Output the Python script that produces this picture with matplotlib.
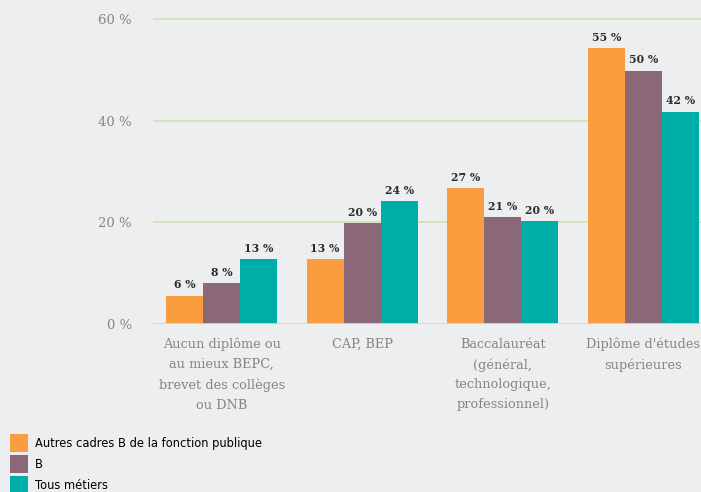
import numpy as np
import matplotlib.pyplot as plt
from matplotlib.patches import Patch

categories = ["Aucun diplôme ou\nau mieux BEPC,\nbrevet des collèges\nou DNB",
              "CAP, BEP",
              "Baccalauréat\n(général,\ntechnologique,\nprofessionnel)",
              "Diplôme d'études\nsupérieures"]
series = ["Autres cadres B de la fonction publique", "B", "Tous métiers"]
autres_b = [5.5, 12.7, 26.7, 54.2]
b_values = [8.0, 19.8, 21.0, 49.8]
tous = [12.7, 24.1, 20.2, 41.8]
labels_autres = ["6 %", "13 %", "27 %", "55 %"]
labels_b = ["8 %", "20 %", "21 %", "50 %"]
labels_tous = ["13 %", "24 %", "20 %", "42 %"]
yticks = [0, 20, 40, 60]
ytick_labels = ["0 %", "20 %", "40 %", "60 %"]

colors = ["#f99d3e", "#8a6878", "#00aea9"]
bg = "#edeef0"

fig = plt.figure(figsize=(7.01, 4.92), dpi=100, facecolor=bg)
ax = fig.add_axes([0.218, 0.3415, 0.782, 0.6585], facecolor=bg)

x = np.arange(len(categories))
w = 0.264
data = [autres_b, b_values, tous]
labs = [labels_autres, labels_b, labels_tous]
for i, (vals, lab) in enumerate(zip(data, labs)):
    bars = ax.bar(x + (i - 1) * w, vals, w, color=colors[i], zorder=3)
    for rect, t in zip(bars, lab):
        ax.annotate(t, (rect.get_x() + rect.get_width() / 2, rect.get_height()),
                    xytext=(0, 4), textcoords="offset points", ha="center", va="bottom",
                    fontsize=7.8, fontweight="bold", family="DejaVu Serif", color="#2b2b2b")

ax.set_xlim(-0.49, 3.41)
ax.set_ylim(0, 63.74)
for yv in yticks[1:]:
    ax.axhline(yv, color="#d3e2b3", lw=1.3, zorder=1)
ax.axhline(0, color="#c9d6e3", lw=1.3, zorder=4)

ax.set_yticks(yticks)
ax.set_yticklabels(ytick_labels, family="DejaVu Serif", fontsize=9.5, color="#858585")
ax.set_xticks(x)
ax.set_xticklabels(categories, family="DejaVu Serif", fontsize=9.3, color="#858585",
                   linespacing=1.68, va="top")
ax.tick_params(axis="y", length=0, pad=15)
ax.tick_params(axis="x", length=0, pad=10)
for s in ax.spines.values():
    s.set_visible(False)

handles = [Patch(facecolor=c, label=l) for c, l in zip(colors, series)]
fig.legend(handles=handles, loc="upper left", bbox_to_anchor=(10 / 701, 1 - 434 / 492),
           frameon=False, fontsize=8.3, handlelength=1.56, handleheight=2.03,
           handletextpad=0.6, labelspacing=0.26, borderaxespad=0.0, borderpad=0.0)

fig.savefig("out.png", dpi=100, facecolor=bg)
